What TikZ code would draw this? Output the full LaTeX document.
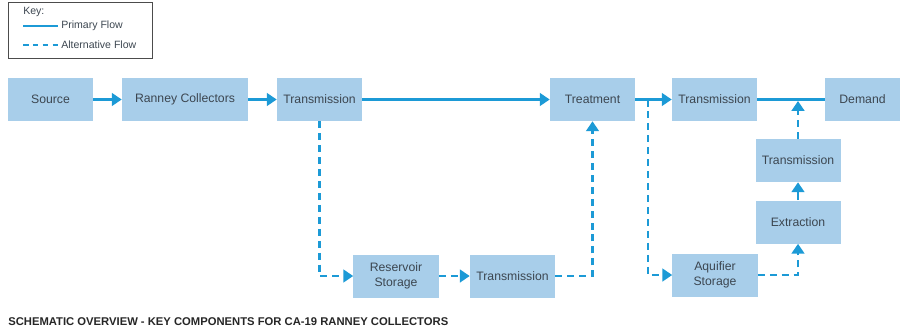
\documentclass[tikz,border=0pt]{standalone}
\usepackage{fontspec}
\setmainfont{Liberation Sans}
\usetikzlibrary{arrows.meta}
\definecolor{boxblue}{HTML}{A8CEEA}
\definecolor{flowblue}{HTML}{1C9AD6}
\definecolor{txtgray}{HTML}{3C4650}
\tikzset{>={Triangle[length=7pt,width=9pt]}}
\tikzset{
  comp/.style={fill=boxblue, text=txtgray, minimum width=2.125cm, minimum height=1.075cm,
    align=center, inner sep=1pt, font=\fontsize{8.7}{10.5}\selectfont},
  prim/.style={flowblue, line width=1.7pt},
  alt/.style={flowblue, line width=1.7pt, dash pattern=on 5pt off 3.5pt},
  keytxt/.style={anchor=west, inner sep=0pt, text=txtgray, font=\fontsize{7.5}{9}\selectfont},
}

\begin{document}
\begin{tikzpicture}[x=0.025cm, y=-0.025cm]
\useasboundingbox (0,0) rectangle (900,331);
\node[draw=gray!60!black, line width=0.5pt, minimum width=3.6cm, minimum height=1.4cm] (key) at (80,30) {};
\node[keytxt] (keyhead) at (23,12) {Key:};
\coordinate (pa) at (23,26);
\coordinate (pb) at (58,26);
\coordinate (aa) at (23,45);
\coordinate (ab) at (58,45);
\draw[prim] (pa) -- (pb);
\draw[alt, dash pattern=on 4pt off 3pt] (aa) -- (ab);
\node[keytxt] (primtxt) at (61,26) {Primary Flow};
\node[keytxt] (alttxt) at (61,45) {Alternative Flow};

\node[comp] (source) at (50.5,99.5) {Source};
\node[comp, minimum width=3.15cm] (ranney) at (185,99.5) {Ranney Collectors};
\node[comp] (trans1) at (319.5,99.5) {Transmission};
\node[comp] (treat) at (592.5,99.5) {Treatment};
\node[comp] (trans2) at (714.5,99.5) {Transmission};
\node[comp, minimum width=1.875cm] (demand) at (862.5,99.5) {Demand};
\node[comp] (trans3) at (798,160.5) {Transmission};
\node[comp] (extract) at (798,222) {Extraction};
\node[comp] (aquifer) at (715,275) {Aquifier\\Storage};
\node[comp] (reservoir) at (396,276) {Reservoir\\Storage};
\node[comp] (trans4) at (512.5,276) {Transmission};

\coordinate (split) at (648,99.5);
\coordinate (merge) at (798,101);

\draw[prim,->] (source) -- (ranney);
\draw[prim,->] (ranney) -- (trans1);
\draw[prim,->] (trans1) -- (treat);
\draw[prim,->] (treat) -- (trans2);
\draw[prim] (trans2) -- (demand);
\draw[alt,->] (trans1.south) |- (reservoir.west);
\draw[alt,->] (reservoir) -- (trans4);
\draw[alt,->] (trans4.east) -| (treat.south);
\draw[alt,->] (split) |- (aquifer.west);
\draw[alt,->] (aquifer.east) -| (extract.south);
\draw[prim,->] (extract) -- (trans3);
\draw[alt,->] (trans3.north) -- (merge);

\node[anchor=west, inner sep=0pt, text=black!85, font=\bfseries\fontsize{8}{10}\selectfont] (caption) at (8,322)
  {SCHEMATIC OVERVIEW - KEY COMPONENTS FOR CA-19 RANNEY COLLECTORS};
\end{tikzpicture}
\end{document}
